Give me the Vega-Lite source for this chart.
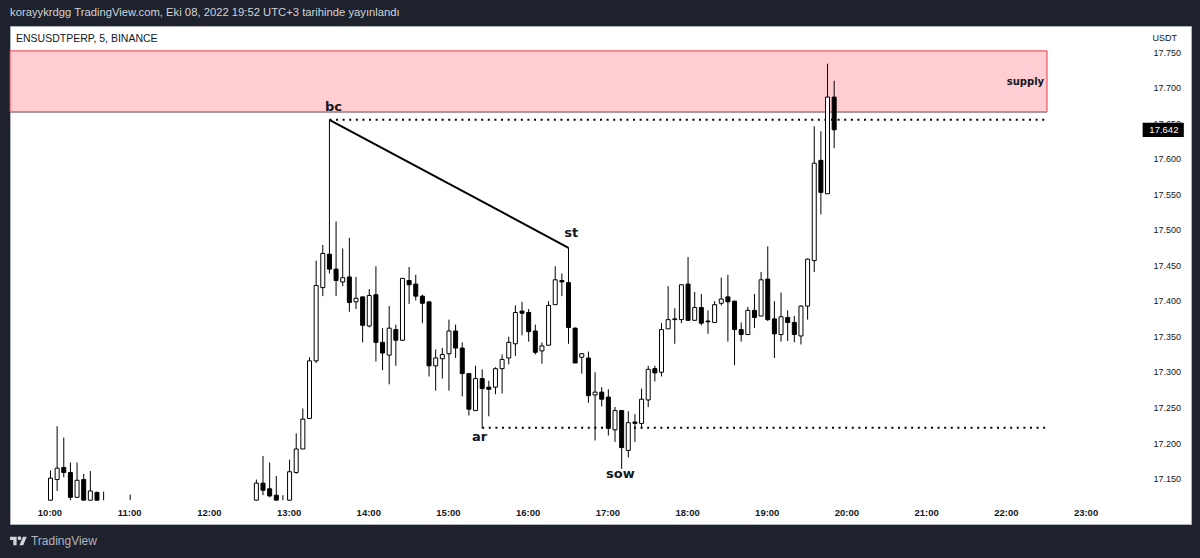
{"$schema":"https://vega.github.io/schema/vega-lite/v6.json","width":1181,"height":498,"autosize":{"type":"none"},"padding":{"left":10,"top":26,"right":9,"bottom":34},"background":"#1e222d","view":{"fill":"#ffffff","stroke":"#b2b5be","strokeWidth":1},
"title":{"text":"korayykrdgg TradingView.com, Eki 08, 2022 19:52 UTC+3 tarihinde yayınlandı","anchor":"start","frame":"group","font":"Liberation Sans","fontSize":11.25,"fontWeight":"normal","color":"#d1d4dc","offset":8},
"config":{"axis":{"grid":false,"domain":false,"ticks":false}},
"datasets":{
"zone":[{"a":"2022-10-08T09:29:31","b":"2022-10-08T22:30:15","p0":17.667,"p1":17.753}],
"levels":[{"a":"2022-10-08T13:30:00","b":"2022-10-08T22:30:15","p":17.656},{"a":"2022-10-08T15:25:00","b":"2022-10-08T22:30:15","p":17.223}],
"trend":[{"a":"2022-10-08T13:30:00","b":"2022-10-08T16:30:00","p0":17.656,"p1":17.476}],
"edge":[{"a":"2022-10-08T09:29:31","b":"2022-10-08T22:30:15","p":17.667}],
"last":[{"a":"2022-10-08T23:42:15","b":"2022-10-09T00:13:15","p0":17.632,"p1":17.652,"m":"2022-10-08T23:58:15","p":17.642,"label":"17.642"}],
"notes":[{"t":"2022-10-08T13:33:00","p":17.674,"label":"bc"},{"t":"2022-10-08T16:32:00","p":17.497,"label":"st"},{"t":"2022-10-08T15:23:00","p":17.21,"label":"ar"},{"t":"2022-10-08T17:09:00","p":17.158,"label":"sow"},{"t":"2022-10-08T22:14:00","p":17.709,"label":"supply"}],
"candles":[
{"t":"2022-10-08T10:00","o":17.121,"h":17.163,"l":17.121,"c":17.152,"dir":"up"},
{"t":"2022-10-08T10:05","o":17.150,"h":17.225,"l":17.134,"c":17.166,"dir":"up"},
{"t":"2022-10-08T10:10","o":17.167,"h":17.209,"l":17.153,"c":17.160,"dir":"down"},
{"t":"2022-10-08T10:15","o":17.160,"h":17.174,"l":17.121,"c":17.125,"dir":"down"},
{"t":"2022-10-08T10:20","o":17.125,"h":17.174,"l":17.125,"c":17.149,"dir":"up"},
{"t":"2022-10-08T10:25","o":17.150,"h":17.158,"l":17.121,"c":17.121,"dir":"down"},
{"t":"2022-10-08T10:30","o":17.121,"h":17.162,"l":17.121,"c":17.134,"dir":"up"},
{"t":"2022-10-08T10:35","o":17.132,"h":17.133,"l":17.121,"c":17.121,"dir":"down"},
{"t":"2022-10-08T10:40","o":null,"h":17.133,"l":17.121,"c":null,"dir":"down"},
{"t":"2022-10-08T11:00","o":null,"h":17.129,"l":17.121,"c":null,"dir":"down"},
{"t":"2022-10-08T12:35","o":17.121,"h":17.150,"l":17.121,"c":17.145,"dir":"up"},
{"t":"2022-10-08T12:40","o":17.145,"h":17.183,"l":17.128,"c":17.135,"dir":"down"},
{"t":"2022-10-08T12:45","o":17.137,"h":17.174,"l":17.125,"c":17.127,"dir":"down"},
{"t":"2022-10-08T12:50","o":17.128,"h":17.155,"l":17.121,"c":17.121,"dir":"down"},
{"t":"2022-10-08T12:55","o":null,"h":17.128,"l":17.121,"c":null,"dir":"down"},
{"t":"2022-10-08T13:00","o":17.121,"h":17.178,"l":17.121,"c":17.161,"dir":"up"},
{"t":"2022-10-08T13:05","o":17.160,"h":17.215,"l":17.158,"c":17.193,"dir":"up"},
{"t":"2022-10-08T13:10","o":17.193,"h":17.250,"l":17.193,"c":17.235,"dir":"up"},
{"t":"2022-10-08T13:15","o":17.236,"h":17.322,"l":17.236,"c":17.317,"dir":"up"},
{"t":"2022-10-08T13:20","o":17.317,"h":17.458,"l":17.314,"c":17.423,"dir":"up"},
{"t":"2022-10-08T13:25","o":17.420,"h":17.480,"l":17.408,"c":17.468,"dir":"up"},
{"t":"2022-10-08T13:30","o":17.467,"h":17.656,"l":17.440,"c":17.446,"dir":"down"},
{"t":"2022-10-08T13:35","o":17.446,"h":17.513,"l":17.408,"c":17.430,"dir":"down"},
{"t":"2022-10-08T13:40","o":17.428,"h":17.475,"l":17.422,"c":17.434,"dir":"up"},
{"t":"2022-10-08T13:45","o":17.435,"h":17.490,"l":17.386,"c":17.399,"dir":"down"},
{"t":"2022-10-08T13:50","o":17.400,"h":17.435,"l":17.390,"c":17.405,"dir":"up"},
{"t":"2022-10-08T13:55","o":17.407,"h":17.407,"l":17.343,"c":17.367,"dir":"down"},
{"t":"2022-10-08T14:00","o":17.366,"h":17.418,"l":17.364,"c":17.409,"dir":"up"},
{"t":"2022-10-08T14:05","o":17.410,"h":17.450,"l":17.316,"c":17.343,"dir":"down"},
{"t":"2022-10-08T14:10","o":17.343,"h":17.363,"l":17.304,"c":17.328,"dir":"down"},
{"t":"2022-10-08T14:15","o":17.325,"h":17.394,"l":17.284,"c":17.363,"dir":"up"},
{"t":"2022-10-08T14:20","o":17.361,"h":17.368,"l":17.310,"c":17.346,"dir":"down"},
{"t":"2022-10-08T14:25","o":17.346,"h":17.433,"l":17.345,"c":17.433,"dir":"up"},
{"t":"2022-10-08T14:30","o":17.430,"h":17.449,"l":17.397,"c":17.424,"dir":"down"},
{"t":"2022-10-08T14:35","o":17.425,"h":17.438,"l":17.402,"c":17.408,"dir":"down"},
{"t":"2022-10-08T14:40","o":17.408,"h":17.410,"l":17.370,"c":17.398,"dir":"down"},
{"t":"2022-10-08T14:45","o":17.400,"h":17.400,"l":17.295,"c":17.310,"dir":"down"},
{"t":"2022-10-08T14:50","o":17.310,"h":17.333,"l":17.275,"c":17.321,"dir":"up"},
{"t":"2022-10-08T14:55","o":17.320,"h":17.335,"l":17.292,"c":17.326,"dir":"up"},
{"t":"2022-10-08T15:00","o":17.327,"h":17.375,"l":17.275,"c":17.359,"dir":"up"},
{"t":"2022-10-08T15:05","o":17.359,"h":17.368,"l":17.321,"c":17.335,"dir":"down"},
{"t":"2022-10-08T15:10","o":17.335,"h":17.343,"l":17.267,"c":17.299,"dir":"down"},
{"t":"2022-10-08T15:15","o":17.299,"h":17.300,"l":17.240,"c":17.249,"dir":"down"},
{"t":"2022-10-08T15:20","o":17.247,"h":17.310,"l":17.247,"c":17.292,"dir":"up"},
{"t":"2022-10-08T15:25","o":17.292,"h":17.305,"l":17.222,"c":17.278,"dir":"down"},
{"t":"2022-10-08T15:30","o":17.280,"h":17.289,"l":17.239,"c":17.277,"dir":"down"},
{"t":"2022-10-08T15:35","o":17.280,"h":17.308,"l":17.270,"c":17.306,"dir":"up"},
{"t":"2022-10-08T15:40","o":17.306,"h":17.326,"l":17.271,"c":17.319,"dir":"up"},
{"t":"2022-10-08T15:45","o":17.321,"h":17.351,"l":17.312,"c":17.343,"dir":"up"},
{"t":"2022-10-08T15:50","o":17.341,"h":17.395,"l":17.324,"c":17.385,"dir":"up"},
{"t":"2022-10-08T15:55","o":17.387,"h":17.400,"l":17.353,"c":17.384,"dir":"down"},
{"t":"2022-10-08T16:00","o":17.385,"h":17.390,"l":17.344,"c":17.358,"dir":"down"},
{"t":"2022-10-08T16:05","o":17.359,"h":17.368,"l":17.326,"c":17.329,"dir":"down"},
{"t":"2022-10-08T16:10","o":17.331,"h":17.343,"l":17.313,"c":17.338,"dir":"up"},
{"t":"2022-10-08T16:15","o":17.339,"h":17.401,"l":17.339,"c":17.395,"dir":"up"},
{"t":"2022-10-08T16:20","o":17.396,"h":17.450,"l":17.396,"c":17.431,"dir":"up"},
{"t":"2022-10-08T16:25","o":17.430,"h":17.440,"l":17.408,"c":17.428,"dir":"down"},
{"t":"2022-10-08T16:30","o":17.427,"h":17.476,"l":17.341,"c":17.364,"dir":"down"},
{"t":"2022-10-08T16:35","o":17.363,"h":17.364,"l":17.314,"c":17.314,"dir":"down"},
{"t":"2022-10-08T16:40","o":17.322,"h":17.328,"l":17.299,"c":17.327,"dir":"up"},
{"t":"2022-10-08T16:45","o":17.321,"h":17.330,"l":17.258,"c":17.268,"dir":"down"},
{"t":"2022-10-08T16:50","o":17.269,"h":17.301,"l":17.205,"c":17.273,"dir":"up"},
{"t":"2022-10-08T16:55","o":17.273,"h":17.280,"l":17.253,"c":17.263,"dir":"down"},
{"t":"2022-10-08T17:00","o":17.266,"h":17.277,"l":17.212,"c":17.222,"dir":"down"},
{"t":"2022-10-08T17:05","o":17.220,"h":17.252,"l":17.203,"c":17.247,"dir":"up"},
{"t":"2022-10-08T17:10","o":17.247,"h":17.248,"l":17.165,"c":17.195,"dir":"down"},
{"t":"2022-10-08T17:15","o":17.191,"h":17.246,"l":17.181,"c":17.230,"dir":"up"},
{"t":"2022-10-08T17:20","o":17.231,"h":17.242,"l":17.203,"c":17.229,"dir":"down"},
{"t":"2022-10-08T17:25","o":17.229,"h":17.278,"l":17.222,"c":17.263,"dir":"up"},
{"t":"2022-10-08T17:30","o":17.262,"h":17.310,"l":17.252,"c":17.305,"dir":"up"},
{"t":"2022-10-08T17:35","o":17.306,"h":17.310,"l":17.288,"c":17.300,"dir":"down"},
{"t":"2022-10-08T17:40","o":17.301,"h":17.370,"l":17.295,"c":17.361,"dir":"up"},
{"t":"2022-10-08T17:45","o":17.362,"h":17.422,"l":17.362,"c":17.375,"dir":"up"},
{"t":"2022-10-08T17:50","o":17.376,"h":17.391,"l":17.341,"c":17.375,"dir":"down"},
{"t":"2022-10-08T17:55","o":17.375,"h":17.424,"l":17.370,"c":17.424,"dir":"up"},
{"t":"2022-10-08T18:00","o":17.425,"h":17.463,"l":17.374,"c":17.374,"dir":"down"},
{"t":"2022-10-08T18:05","o":17.374,"h":17.414,"l":17.374,"c":17.392,"dir":"up"},
{"t":"2022-10-08T18:10","o":17.392,"h":17.411,"l":17.367,"c":17.370,"dir":"down"},
{"t":"2022-10-08T18:15","o":17.373,"h":17.388,"l":17.355,"c":17.372,"dir":"down"},
{"t":"2022-10-08T18:20","o":17.371,"h":17.401,"l":17.371,"c":17.396,"dir":"up"},
{"t":"2022-10-08T18:25","o":17.398,"h":17.434,"l":17.395,"c":17.404,"dir":"up"},
{"t":"2022-10-08T18:30","o":17.407,"h":17.438,"l":17.344,"c":17.400,"dir":"down"},
{"t":"2022-10-08T18:35","o":17.401,"h":17.401,"l":17.311,"c":17.361,"dir":"down"},
{"t":"2022-10-08T18:40","o":17.361,"h":17.371,"l":17.344,"c":17.354,"dir":"down"},
{"t":"2022-10-08T18:45","o":17.354,"h":17.393,"l":17.354,"c":17.388,"dir":"up"},
{"t":"2022-10-08T18:50","o":17.388,"h":17.411,"l":17.363,"c":17.378,"dir":"down"},
{"t":"2022-10-08T18:55","o":17.380,"h":17.442,"l":17.380,"c":17.431,"dir":"up"},
{"t":"2022-10-08T19:00","o":17.432,"h":17.478,"l":17.373,"c":17.375,"dir":"down"},
{"t":"2022-10-08T19:05","o":17.376,"h":17.401,"l":17.321,"c":17.355,"dir":"down"},
{"t":"2022-10-08T19:10","o":17.354,"h":17.413,"l":17.344,"c":17.379,"dir":"up"},
{"t":"2022-10-08T19:15","o":17.378,"h":17.388,"l":17.345,"c":17.371,"dir":"down"},
{"t":"2022-10-08T19:20","o":17.371,"h":17.380,"l":17.343,"c":17.354,"dir":"down"},
{"t":"2022-10-08T19:25","o":17.352,"h":17.395,"l":17.340,"c":17.394,"dir":"up"},
{"t":"2022-10-08T19:30","o":17.394,"h":17.461,"l":17.375,"c":17.460,"dir":"up"},
{"t":"2022-10-08T19:35","o":17.458,"h":17.647,"l":17.442,"c":17.595,"dir":"up"},
{"t":"2022-10-08T19:40","o":17.599,"h":17.640,"l":17.523,"c":17.554,"dir":"down"},
{"t":"2022-10-08T19:45","o":17.552,"h":17.735,"l":17.552,"c":17.688,"dir":"up"},
{"t":"2022-10-08T19:50","o":17.688,"h":17.711,"l":17.616,"c":17.642,"dir":"down"}
]},
"encoding":{
"x":{"field":"t","type":"temporal","title":null,"scale":{"padding":0,"domain":[{"year":2022,"month":10,"date":8,"hours":9,"minutes":29,"seconds":31},{"year":2022,"month":10,"date":9,"hours":0,"minutes":18,"seconds":39}]},
"axis":{"orient":"bottom","format":"%H:%M","labelPadding":-17,"labelOffset":-1,"labelFont":"Liberation Sans","labelFontSize":9.5,"labelFontWeight":"bold","labelColor":"#131722","labelFlush":false,"labelOverlap":false,"values":[{"year":2022,"month":10,"date":8,"hours":10},{"year":2022,"month":10,"date":8,"hours":11},{"year":2022,"month":10,"date":8,"hours":12},{"year":2022,"month":10,"date":8,"hours":13},{"year":2022,"month":10,"date":8,"hours":14},{"year":2022,"month":10,"date":8,"hours":15},{"year":2022,"month":10,"date":8,"hours":16},{"year":2022,"month":10,"date":8,"hours":17},{"year":2022,"month":10,"date":8,"hours":18},{"year":2022,"month":10,"date":8,"hours":19},{"year":2022,"month":10,"date":8,"hours":20},{"year":2022,"month":10,"date":8,"hours":21},{"year":2022,"month":10,"date":8,"hours":22},{"year":2022,"month":10,"date":8,"hours":23}]}},
"y":{"field":"p","type":"quantitative","scale":{"domain":[17.0875,17.788],"nice":false,"zero":false},
"axis":{"orient":"right","title":"USDT","titleAngle":0,"titleX":-39,"titleY":11,"titleAlign":"left","titleBaseline":"middle","titleFont":"Liberation Sans","titleFontSize":9,"titleFontWeight":"normal","titleColor":"#131722","format":".3f","labelAlign":"left","labelPadding":-38,"labelOffset":-1,"labelFont":"Liberation Sans","labelFontSize":9,"labelColor":"#131722","labelOverlap":false,"values":[17.15,17.2,17.25,17.3,17.35,17.4,17.45,17.5,17.55,17.6,17.65,17.7,17.75]}}
},
"layer":[
{"data":{"name":"zone"},"mark":{"type":"rect","fill":"#ffcdd2","stroke":"#f23645","strokeWidth":1},"encoding":{"x":{"field":"a","type":"temporal"},"x2":{"field":"b"},"y":{"field":"p0","type":"quantitative"},"y2":{"field":"p1"}}},
{"data":{"name":"edge"},"mark":{"type":"rule","color":"#9598a1","strokeWidth":1.5},"encoding":{"x":{"field":"a","type":"temporal"},"x2":{"field":"b"},"y":{"field":"p","type":"quantitative"}}},
{"data":{"name":"levels"},"mark":{"type":"rule","color":"#000000","strokeWidth":2,"strokeDash":[2,4.6]},"encoding":{"x":{"field":"a","type":"temporal"},"x2":{"field":"b"},"y":{"field":"p","type":"quantitative"}}},
{"data":{"name":"trend"},"mark":{"type":"rule","color":"#000000","strokeWidth":2},"encoding":{"x":{"field":"a","type":"temporal"},"x2":{"field":"b"},"y":{"field":"p0","type":"quantitative"},"y2":{"field":"p1"}}},
{"data":{"name":"candles"},"mark":{"type":"rule","color":"#000000","strokeWidth":1},"encoding":{"y":{"field":"l","type":"quantitative"},"y2":{"field":"h"}}},
{"data":{"name":"candles"},"mark":{"type":"bar","size":4,"stroke":"#000000","strokeWidth":1},"encoding":{"y":{"field":"o","type":"quantitative"},"y2":{"field":"c"},"fill":{"field":"dir","type":"nominal","legend":null,"scale":{"domain":["up","down"],"range":["#ffffff","#000000"]}}}},
{"data":{"name":"notes"},"mark":{"type":"text","font":"DejaVu Sans","fontWeight":"bold","fontSize":13,"color":"#131722"},"transform":[{"filter":"datum.label != 'supply'"}],"encoding":{"text":{"field":"label"}}},
{"data":{"name":"notes"},"mark":{"type":"text","font":"DejaVu Sans","fontWeight":"bold","fontSize":10,"color":"#131722"},"transform":[{"filter":"datum.label == 'supply'"}],"encoding":{"text":{"field":"label"}}},
{"data":{"values":[{"t":"2022-10-08T09:34:02","p":17.7697,"label":"ENSUSDTPERP, 5, BINANCE"}]},"mark":{"type":"text","align":"left","font":"Liberation Sans","fontSize":10.5,"color":"#131722"},"encoding":{"text":{"field":"label"}}},
{"data":{"values":[{"t":"2022-10-08T09:45:15","p":17.0636,"label":"TradingView"}]},"mark":{"type":"text","align":"left","font":"Liberation Sans","fontSize":12,"color":"#b2b5be"},"encoding":{"text":{"field":"label"}}},
{"data":{"values":[{"t":"2022-10-08T09:35:55","p":17.0636}]},"mark":{"type":"point","filled":true,"opacity":1,"size":289,"color":"#d1d4dc","shape":"M-0.222 0.5H-0.611V-0.111H-1V-0.5H-0.222ZM0.556 0.5H0.111L0.528 -0.5H0.972ZM-0.111 -0.333a0.222 0.222 0 1 0 0.444 0a0.222 0.222 0 1 0 -0.444 0Z"}},
{"data":{"name":"last"},"mark":{"type":"rect","fill":"#000000"},"encoding":{"x":{"field":"a","type":"temporal"},"x2":{"field":"b"},"y":{"field":"p0","type":"quantitative"},"y2":{"field":"p1"}}},
{"data":{"name":"last"},"mark":{"type":"text","font":"Liberation Sans","fontSize":9.5,"color":"#ffffff"},"encoding":{"x":{"field":"m","type":"temporal"},"text":{"field":"label"}}}
]}
